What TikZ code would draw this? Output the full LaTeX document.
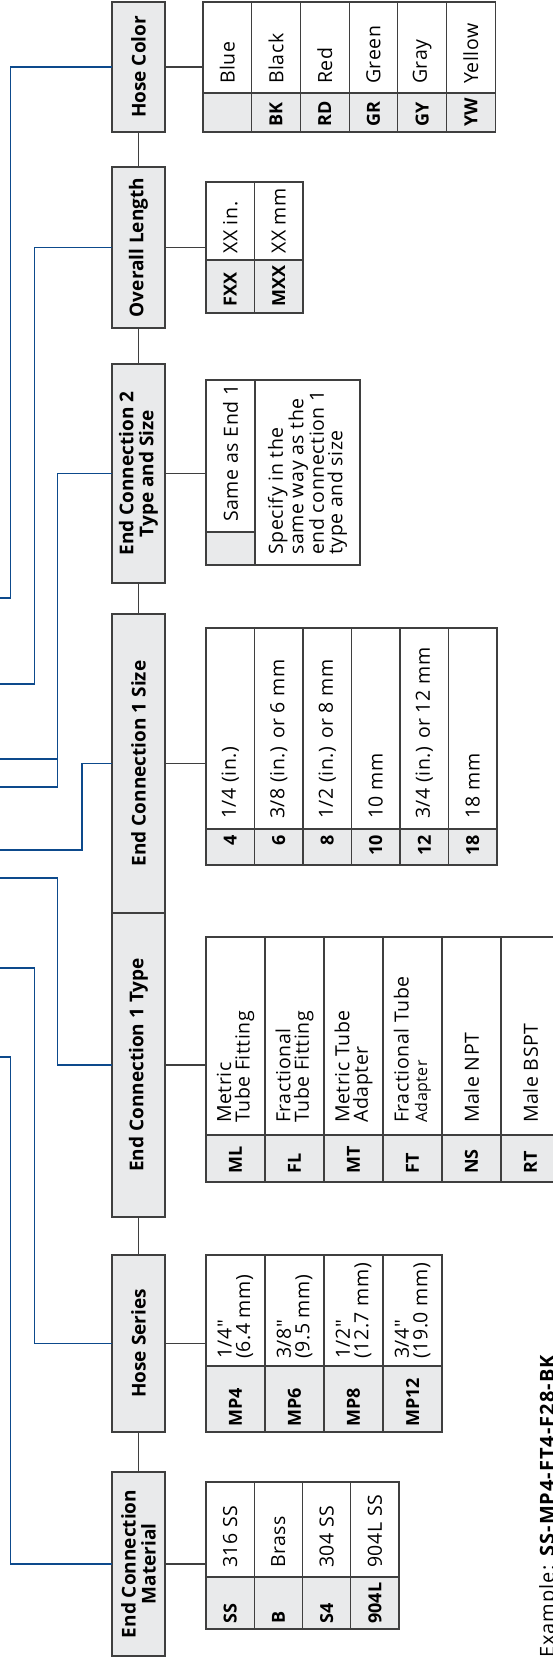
\documentclass[tikz,border=0pt]{standalone}
\usepackage{fontspec}
\setmainfont{Open Sans}
\newfontfamily\tablefont[LetterSpace=3.0]{Open Sans}
\newfontfamily\examplefont[LetterSpace=5.0]{Open Sans}
\usepackage{xcolor}
\usepackage{tikz}
\usetikzlibrary{calc, positioning}

\definecolor{boxgray}{HTML}{E9EAEB}
\definecolor{rulegray}{HTML}{3F3F3F}
\definecolor{leadblue}{HTML}{0D4A8C}

\tikzset{
    hdr/.style={draw=rulegray, fill=boxgray, line width=1.1pt, outer sep=0pt,
        inner sep=0pt, minimum height=53pt, align=center,
        font=\fontsize{19}{20}\selectfont\bfseries},
    cell/.style={draw=rulegray, line width=1.1pt, outer sep=0pt, inner sep=0pt, anchor=north west},
    codecell/.style={cell, fill=boxgray},
    desccell/.style={cell, fill=white},
    codetxt/.style={inner sep=0pt, font=\fontsize{18}{19}\selectfont\bfseries},
    desctxt/.style={inner sep=0pt, align=left, font=\tablefont\fontsize{19.5}{18.5}\selectfont},
    link/.style={draw=rulegray, line width=1.1pt},
    lead/.style={draw=leadblue, line width=1.5pt},
}

\begin{document}
\begin{tikzpicture}[x=1pt, y=1pt]
    \useasboundingbox (0,0) rectangle (553,1658);
    \clip (0,0) rectangle (553,1658);
    \begin{scope}[rotate=90, transform shape]
    % 1. Khung tiêu đề
    \node[hdr, minimum width=184pt] (hdrMat) at (94,-138.5) {End Connection\\Material};
    \node[hdr, minimum width=177pt] (hdrSeries) at (314.5,-138.5) {Hose Series};
    \node[hdr, minimum width=304pt] (hdrType) at (593,-138.5) {End Connection 1 Type};
    \node[hdr, minimum width=299pt] (hdrSize) at (894.5,-138.5) {End Connection 1 Size};
    \node[hdr, minimum width=219pt] (hdrEnd) at (1184.5,-138.5) {End Connection 2\\Type and Size};
    \node[hdr, minimum width=161pt] (hdrLength) at (1410.5,-138.5) {Overall Length};
    \node[hdr, minimum width=130pt] (hdrColor) at (1591,-138.5) {Hose Color};
    \draw[link] (hdrMat) -- (hdrSeries);
    \draw[link] (hdrSeries) -- (hdrType);
    \draw[link] (hdrSize) -- (hdrEnd);
    \draw[link] (hdrEnd) -- (hdrLength);
    \draw[link] (hdrLength) -- (hdrColor);

    % 2. Các bảng mã
    \foreach \c/\d [count=\i] in {SS/316 SS, B/Brass, S4/304 SS, 904L/904L SS} {
        \node[codecell, minimum width=52pt, minimum height=48.25pt] (mat-c\i) at (29,{-206-(\i-1)*48.25}) {};
        \node[desccell, minimum width=95pt, minimum height=48.25pt] (mat-d\i) at (mat-c\i.north east) {};
        \node[codetxt, right=5pt of mat-c\i.west] (mat-ct\i) {\c};
        \node[desctxt, right=9pt of mat-d\i.west] (mat-dt\i) {\d};
    }
    \foreach \c/\d [count=\i] in {MP4/{1/4"\\(6.4 mm)}, MP6/{3/8"\\(9.5 mm)},
                                  MP8/{1/2"\\(12.7 mm)}, MP12/{3/4"\\(19.0 mm)}} {
        \node[codecell, minimum width=66pt, minimum height=59pt] (ser-c\i) at (226,{-206-(\i-1)*59}) {};
        \node[desccell, minimum width=111pt, minimum height=59pt] (ser-d\i) at (ser-c\i.north east) {};
        \node[codetxt, right=5pt of ser-c\i.west] (ser-ct\i) {\c};
        \node[desctxt, right=7pt of ser-d\i.west] (ser-dt\i) {\d};
    }
    \foreach \c/\d [count=\i] in {ML/Metric\\Tube Fitting, FL/Fractional\\Tube Fitting,
                                  MT/Metric Tube\\Adapter, FT/Fractional Tube\\{\fontsize{16}{16}\selectfont Adapter},
                                  NS/Male NPT, RT/Male BSPT} {
        \node[codecell, minimum width=47pt, minimum height=59pt] (typ-c\i) at (476,{-206-(\i-1)*59}) {};
        \node[desccell, minimum width=198pt, minimum height=59pt] (typ-d\i) at (typ-c\i.north east) {};
        \node[codetxt, right=8pt of typ-c\i.west] (typ-ct\i) {\c};
        \node[desctxt, right=12pt of typ-d\i.west] (typ-dt\i) {\d};
    }
    \foreach \c/\d [count=\i] in {4/{1/4 (in.)}, 6/{3/8 (in.) or 6 mm}, 8/{1/2 (in.) or 8 mm},
                                  10/10 mm, 12/{3/4 (in.) or 12 mm}, 18/18 mm} {
        \node[codecell, minimum width=36pt, minimum height=48.5pt] (siz-c\i) at (793,{-206-(\i-1)*48.5}) {};
        \node[desccell, minimum width=201pt, minimum height=48.5pt] (siz-d\i) at (siz-c\i.north east) {};
        \node[codetxt, left=6pt of siz-c\i.east] (siz-ct\i) {\c};
        \node[desctxt, right=10pt of siz-d\i.west] (siz-dt\i) {\d};
    }
    \node[codecell, minimum width=33pt, minimum height=49pt] (end-c1) at (1093,-206) {};
    \node[desccell, minimum width=152pt, minimum height=49pt] (end-d1) at (end-c1.north east) {};
    \node[desccell, minimum width=185pt, minimum height=105pt] (end-d2) at (end-c1.south west) {};
    \node[desctxt, right=10pt of end-d1.west] (end-dt1) {Same as End 1};
    \node[desctxt, right=10pt of end-d2.west] (end-dt2)
        {Specify in the\\same way as the\\end connection 1\\type and size};
    \foreach \c/\d [count=\i] in {FXX/XX in., MXX/XX mm} {
        \node[codecell, minimum width=53pt, minimum height=48.5pt] (len-c\i) at (1345,{-206-(\i-1)*48.5}) {};
        \node[desccell, minimum width=78pt, minimum height=48.5pt] (len-d\i) at (len-c\i.north east) {};
        \node[codetxt, right=6pt of len-c\i.west] (len-ct\i) {\c};
        \node[desctxt, right=6pt of len-d\i.west] (len-dt\i) {\d};
    }
    \foreach \c/\d [count=\i] in {{}/Blue, BK/Black, RD/Red, GR/Green, GY/Gray, YW/Yellow} {
        \node[codecell, minimum width=39pt, minimum height=48.7pt] (col-c\i) at (1526,{-203-(\i-1)*48.7}) {};
        \node[desccell, minimum width=91pt, minimum height=48.7pt] (col-d\i) at (col-c\i.north east) {};
        \node[codetxt, right=5pt of col-c\i.west] (col-ct\i) {\c};
        \node[desctxt, right=9pt of col-d\i.west] (col-dt\i) {\d};
    }

    % 3. Nối tiêu đề với bảng
    \draw[link] (hdrMat.south) -- (hdrMat.south |- mat-d1.north);
    \draw[link] (hdrSeries.south) -- (hdrSeries.south |- ser-d1.north);
    \draw[link] (hdrType.south) -- (hdrType.south |- typ-d1.north);
    \draw[link] (hdrSize.south) -- (hdrSize.south |- siz-d1.north);
    \draw[link] (hdrEnd.south) -- (hdrEnd.south |- end-d1.north);
    \draw[link] (hdrLength.south) -- (hdrLength.south |- len-d1.north);
    \draw[link] (hdrColor.south) -- (hdrColor.south |- col-d1.north);

    % 4. Đường dẫn màu xanh
    \coordinate (srcMat) at (601,1);
    \coordinate (srcSeries) at (690,1);
    \coordinate (srcType) at (780,1);
    \coordinate (srcSize) at (808,1);
    \coordinate (srcEnd) at (871,1);
    \coordinate (srcExtra) at (899,1);
    \coordinate (srcLength) at (974,1);
    \coordinate (srcColor) at (1060,1);
    \draw[lead] (srcMat) -- ++(0,-11.5) -| (hdrMat.north);
    \draw[lead] (srcSeries) -- ++(0,-35.5) -| (hdrSeries.north);
    \draw[lead] (srcType) -- ++(0,-58.5) -| (hdrType.north);
    \draw[lead] (srcSize) -- ++(0,-83) -| (hdrSize.north);
    \draw[lead] (srcEnd) -- ++(0,-58.5) -| (hdrEnd.north);
    \draw[lead] (srcExtra) -- (srcExtra |- 0,-57.5);
    \draw[lead] (srcLength) -- ++(0,-35.5) -| (hdrLength.north);
    \draw[lead] (srcColor) -- ++(0,-11.5) -| (hdrColor.north);

    % 5. Ví dụ
    \node[anchor=north west, inner sep=0pt, font=\examplefont\fontsize{20}{20}\selectfont] (example)
        at (0,-539) {Example: \textbf{SS-MP4-FT4-F28-BK}};
    \end{scope}
\end{tikzpicture}
\end{document}
